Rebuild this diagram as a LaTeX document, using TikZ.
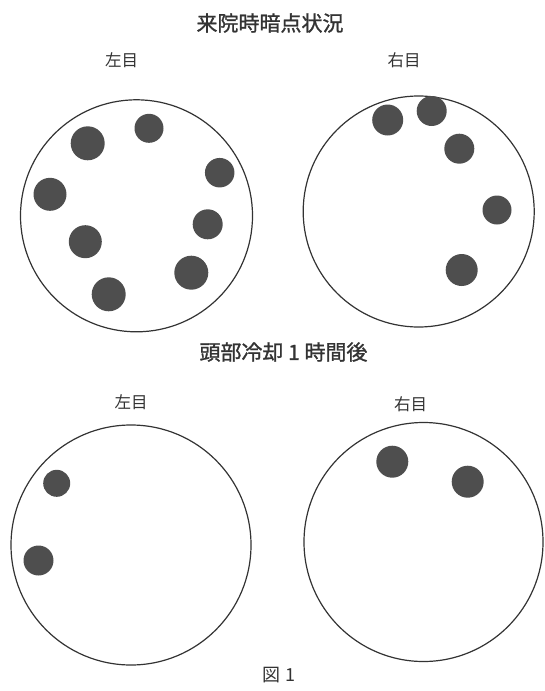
\documentclass[tikz,border=0pt]{standalone}
\usepackage{fontspec}
\newfontfamily\cjk{Noto Sans CJK JP}
\newfontfamily\cjkbold[FakeBold=1.2]{Noto Sans CJK JP}
\definecolor{inkgray}{HTML}{333333}
\definecolor{dotgray}{HTML}{4E4E4E}
\begin{document}
\begin{tikzpicture}[x=1pt,y=-1pt,
  field/.style={circle,draw=inkgray,line width=1.2pt,inner sep=0pt,minimum size=#1},
  spot/.style={circle,fill=dotgray,draw=none,inner sep=0pt,minimum size=#1},
  heading/.style={font=\cjkbold\fontsize{21}{24}\selectfont,text=inkgray,inner sep=0pt},
  eyelabel/.style={font=\cjk\fontsize{16.5}{19}\selectfont,text=inkgray,inner sep=0pt}]
\useasboundingbox (0,0) rectangle (544,691);
% titles
\node[heading] (t1) at (270,23) {来院時暗点状況};
\node[eyelabel] (l1) at (121.5,60) {左目};
\node[eyelabel] (r1) at (404,60) {右目};
\node[heading] (t2) at (283.5,352) {頭部冷却 1 時間後};
\node[eyelabel] (l2) at (131,402) {左目};
\node[eyelabel] (r2) at (410.5,404) {右目};
\node[eyelabel,font=\cjk\fontsize{18}{20}\selectfont] (fig) at (279,675) {図 1};
% top-left eye
\node[field=232pt] (ctl) at (136.5,215.8) {};
\node[spot=34pt] (a1) at (87.7,143.3) {};
\node[spot=29pt] (a2) at (149,128.3) {};
\node[spot=29.5pt] (a3) at (219.7,172.7) {};
\node[spot=33pt] (a4) at (50,194.3) {};
\node[spot=30pt] (a5) at (207.7,224.3) {};
\node[spot=33pt] (a6) at (85.3,241.7) {};
\node[spot=34pt] (a7) at (191.3,272.7) {};
\node[spot=34pt] (a8) at (108.7,294.3) {};
% top-right eye
\node[field=231pt] (ctr) at (418.7,211.5) {};
\node[spot=31pt] (b1) at (387.7,120) {};
\node[spot=30pt] (b2) at (431.7,111) {};
\node[spot=30pt] (b3) at (459.3,148.7) {};
\node[spot=29pt] (b4) at (497,210) {};
\node[spot=32pt] (b5) at (461.7,270) {};
% bottom-left eye
\node[field=240pt] (cbl) at (131,545) {};
\node[spot=27pt] (c1) at (56.7,483.3) {};
\node[spot=30pt] (c2) at (38.5,560.5) {};
% bottom-right eye
\node[field=239pt] (cbr) at (423.5,542) {};
\node[spot=32pt] (d1) at (392.3,461.7) {};
\node[spot=32pt] (d2) at (467.7,481.7) {};
\end{tikzpicture}
\end{document}
